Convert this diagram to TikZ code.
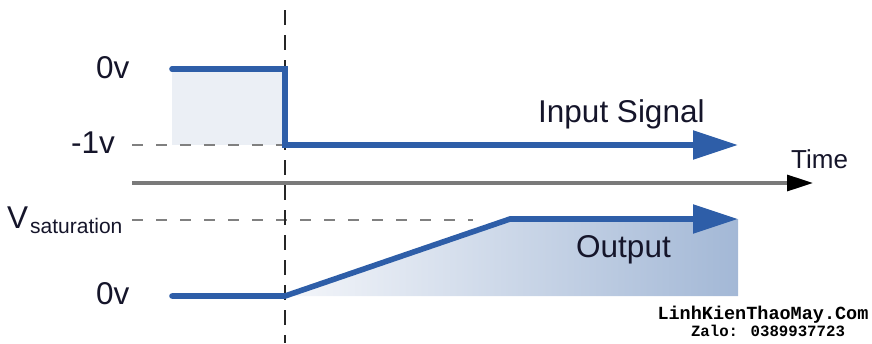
\documentclass[tikz,border=0pt]{standalone}
\usepackage{fontspec}
\setmainfont{Liberation Sans}
\newfontfamily\wmfont{Liberation Mono}
\usetikzlibrary{arrows.meta}
\definecolor{sigblue}{HTML}{2E5EA8}
\definecolor{fillin}{HTML}{EBEFF5}
\definecolor{outL}{HTML}{F4F6FA}
\definecolor{outR}{HTML}{A3B8D6}
\definecolor{axisgray}{HTML}{7A7A7A}
\definecolor{dashgray}{HTML}{808080}
\definecolor{vdashc}{HTML}{262626}
\definecolor{txt}{HTML}{15152A}
\tikzset{
  sig/.style={line width=5.6pt, draw=sigblue, line cap=round, line join=miter},
  sigtip/.style={-{Triangle[length=45pt,width=28pt,color=sigblue]}},
  lbl/.style={inner sep=0pt, text=txt, font=\fontsize{31.5}{31.5}\selectfont},
  sublbl/.style={inner sep=0pt, text=txt, font=\fontsize{21}{21}\selectfont},
  timelbl/.style={inner sep=0pt, text=txt, font=\fontsize{26}{26}\selectfont},
  leveldash/.style={line width=2.4pt, draw=dashgray, dash pattern=on 11pt off 13pt},
  vdash/.style={line width=1.7pt, draw=vdashc, dash pattern=on 15pt off 10pt},
  axisline/.style={line width=3.2pt, draw=axisgray, -{Triangle[length=26pt,width=16pt,color=black]}},
  wmone/.style={inner sep=0pt, text=black, font=\wmfont\bfseries\fontsize{18.5}{18.5}\selectfont},
  wmtwo/.style={inner sep=0pt, text=black, font=\wmfont\bfseries\fontsize{15.7}{15.7}\selectfont},
}
\begin{document}
\begin{tikzpicture}[x=1pt,y=-1pt]
\useasboundingbox (0,0) rectangle (872,343);

% input waveform points
\coordinate (i0) at (172,69);
\coordinate (i1) at (285,69);
\coordinate (i2) at (285,145);
\coordinate (i3) at (738,145);
% output waveform points
\coordinate (o0) at (172,296);
\coordinate (o1) at (285,296);
\coordinate (o2) at (510,219);
\coordinate (o3) at (738,219);
\coordinate (o4) at (738,296);
% guides
\coordinate (dtop) at (285,10);
\coordinate (dbot) at (285,343);
\coordinate (m1s) at (132,145);
\coordinate (vss) at (132,220);
\coordinate (vse) at (473,220);
\coordinate (ts) at (132,183);
\coordinate (te) at (813,183);

% fills
\fill[fillin] (i0) rectangle (i2);
\shade[left color=outL, right color=outR] (o1) -- (o2) -- (o3) -- (o4) -- cycle;

% dashed guides
\draw[leveldash] (m1s) -- (i2);
\draw[leveldash] (vss) -- (vse);
\draw[vdash] (dtop) -- (dbot);

% time axis
\draw[axisline] (ts) -- (te);

% signals
\draw[sig, sigtip] (i0) -- (i1) -- (i2) -- (i3);
\draw[sig, sigtip] (o0) -- (o1) -- (o2) -- (o3);

% labels
\node[lbl, anchor=base west] (lzeroa) at (96,78) {0v};
\node[lbl, anchor=base west] (lminus) at (71,153) {-1v};
\node[lbl, anchor=base west] (lzerob) at (96,304) {0v};
\node[lbl, anchor=base west] (lv) at (7,228) {V};
\node[sublbl, anchor=base west] (lsat) at (30,233) {saturation};
\node[timelbl, anchor=base west] (ltime) at (791,168) {Time};
\node[lbl, anchor=base west] (linput) at (538,122) {Input Signal};
\node[lbl, anchor=base west] (loutput) at (576,257) {Output};

% watermark
\node[wmone, anchor=base] (wm1) at (763,319) {LinhKienThaoMay.Com};
\node[wmtwo, anchor=base] (wm2) at (768,336) {Zalo: 0389937723};
\end{tikzpicture}
\end{document}
